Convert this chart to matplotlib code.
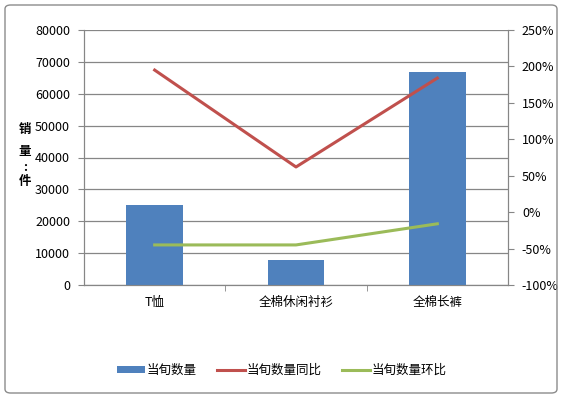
import matplotlib.pyplot as plt
from matplotlib.patches import FancyBboxPatch
from matplotlib.ticker import FuncFormatter

plt.rcParams['font.family'] = ['Noto Sans CJK SC', 'DejaVu Sans']

# 数据
categories = ['T恤', '全棉休闲衬衫', '全棉长裤']
qty = [25000, 8000, 66800]
yoy = [195, 62, 184]      # 当旬数量同比 (%)
mom = [-45, -45, -16]     # 当旬数量环比 (%)

W, H = 563, 397
fig = plt.figure(figsize=(W / 100, H / 100), dpi=100)

# 外框
fig.patches.append(FancyBboxPatch((5 / W, 4 / H), 552 / W, 388 / H,
                                  boxstyle="round,pad=0,rounding_size=0.01",
                                  transform=fig.transFigure, fill=False,
                                  edgecolor='#8c8c8c', linewidth=1.0))

ax = fig.add_axes([84 / W, 1 - 285 / H, 424 / W, 255 / H])
ax2 = ax.twinx()

x = list(range(len(categories)))
ax.bar(x, qty, width=0.4, color='#4f81bd', zorder=3, label='当旬数量')
ax2.plot(x, yoy, color='#c0504d', linewidth=2.2, label='当旬数量同比')
ax2.plot(x, mom, color='#9bbb59', linewidth=2.2, label='当旬数量环比')

ax.set_xlim(-0.5, 2.5)
ax.set_ylim(0, 80000)
ax.set_yticks(range(0, 80001, 10000))
ax2.set_ylim(-100, 250)
ax2.set_yticks(range(-100, 251, 50))
ax2.yaxis.set_major_formatter(FuncFormatter(lambda v, p: f'{int(v)}%'))

ax.set_xticks(x)
ax.set_xticklabels(categories)
ax.set_xticks([0.5, 1.5], minor=True)
ax.tick_params(axis='x', which='major', length=0, pad=8, labelsize=9)
ax.tick_params(axis='x', which='minor', length=4, color='#868686')
ax.tick_params(axis='y', length=4, color='#868686', labelsize=9, pad=6)
ax2.tick_params(axis='y', length=4, color='#868686', labelsize=9, pad=6)

ax.grid(axis='y', color='#868686', linewidth=0.9, zorder=0)
ax.set_axisbelow(True)
for a in (ax, ax2):
    a.spines['top'].set_visible(False)
    for s in ('left', 'right', 'bottom'):
        a.spines[s].set_color('#868686')

# 纵轴标题（竖排）
for ch, yy in zip('销量:件', [129, 152, 168, 182]):
    fig.text(25 / W, 1 - yy / H, ch, ha='center', va='center',
             fontsize=9, fontweight='bold')

h1, l1 = ax.get_legend_handles_labels()
h2, l2 = ax2.get_legend_handles_labels()
fig.legend(h1 + h2, l1 + l2, loc='center', bbox_to_anchor=(282 / W, 1 - 370 / H),
           ncol=3, frameon=False, fontsize=9, handlelength=2.2,
           handleheight=0.5, columnspacing=1.6, handletextpad=0.2)

fig.savefig('out.png', dpi=100)
